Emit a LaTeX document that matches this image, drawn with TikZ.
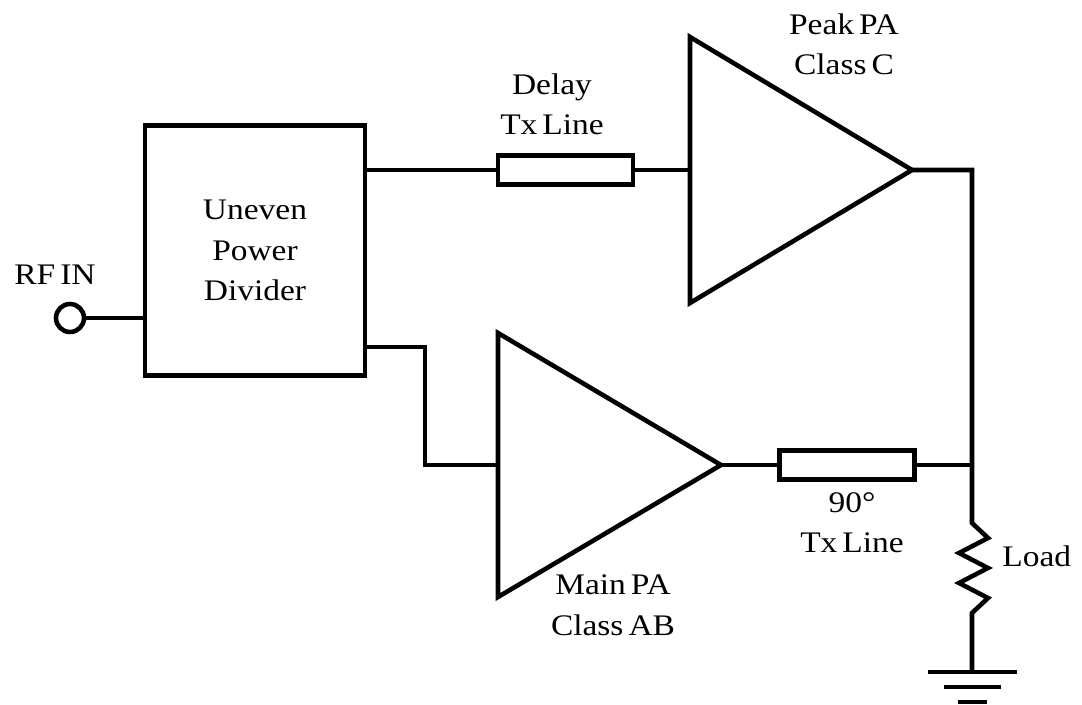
\documentclass[tikz,border=0pt]{standalone}
\usepackage{fontspec}
\setmainfont{Liberation Serif}[FakeStretch=1.12,WordSpace=0.6]
\tikzset{
  wire/.style={line width=2.6pt},
  lbl/.style={font=\fontsize{17}{23}\selectfont, align=center, inner sep=0pt},
  txline/.style={draw, line width=2.6pt, minimum width=2.7cm, minimum height=0.58cm, inner sep=0pt},
}
\begin{document}
\begin{tikzpicture}[x=0.02cm,y=-0.02cm]
  \useasboundingbox (0,0) rectangle (1082,705);
  % input and divider
  \node[draw, line width=2.6pt, minimum width=4.4cm, minimum height=5cm, lbl] (div) at (255,250.5) {Uneven\\Power\\Divider};
  \node[draw, circle, line width=2.6pt, minimum size=0.56cm, inner sep=0pt] (rfin) at (70,318) {};
  \node[lbl, anchor=base] (rfinlbl) at (55,285) {RF IN};
  \draw[wire] (rfin) -- (rfin -| div.west);
  % peak branch
  \coordinate (pk1) at (690,37);
  \coordinate (pk2) at (690,303);
  \coordinate (pkin) at (690,170);
  \coordinate (pkout) at (912,170);
  \draw[wire] (pk1) -- (pkout) -- (pk2) -- cycle;
  \node[txline] (delay) at (565.5,170) {};
  \draw[wire] (div.east |- delay) -- (delay.west);
  \draw[wire] (delay.east) -- (pkin);
  \node[lbl, anchor=base] (delaylbl) at (552,135) {Delay\\Tx Line};
  \node[lbl, anchor=base] (peaklbl) at (844,75) {Peak PA\\Class C};
  % main branch
  \coordinate (mn1) at (498,333);
  \coordinate (mn2) at (498,597);
  \coordinate (mnin) at (498,465);
  \coordinate (mnout) at (721,465);
  \draw[wire] (mn1) -- (mnout) -- (mn2) -- cycle;
  \coordinate (bend) at (425,347);
  \draw[wire] (div.east |- bend) -- (bend) |- (mnin);
  \node[txline] (qwave) at (847,465) {};
  \draw[wire] (mnout) -- (qwave.west);
  \node[lbl, anchor=base] (mainlbl) at (613,635) {Main PA\\Class AB};
  \node[lbl, anchor=base] (qwavelbl) at (852,553) {90°\\Tx Line};
  % combiner, load and ground
  \coordinate (jn) at (972,465);
  \coordinate (rtop) at (972,523);
  \coordinate (gnd) at (972,672);
  \draw[wire] (qwave.east) -- (jn);
  \draw[wire] (pkout) -| (jn) -- (rtop) -- ++(16,15) -- ++(-29,15) -- ++(29,15)
    -- ++(-29,15) -- ++(29,15) -- ++(-16,15) -- (gnd);
  \foreach \h/\y in {44.5/672,28.5/687,14.5/702}
    \draw[wire] (972-\h,\y) -- (972+\h,\y);
  \node[lbl, anchor=base west] (loadlbl) at (1002,567) {Load};
\end{tikzpicture}
\end{document}
